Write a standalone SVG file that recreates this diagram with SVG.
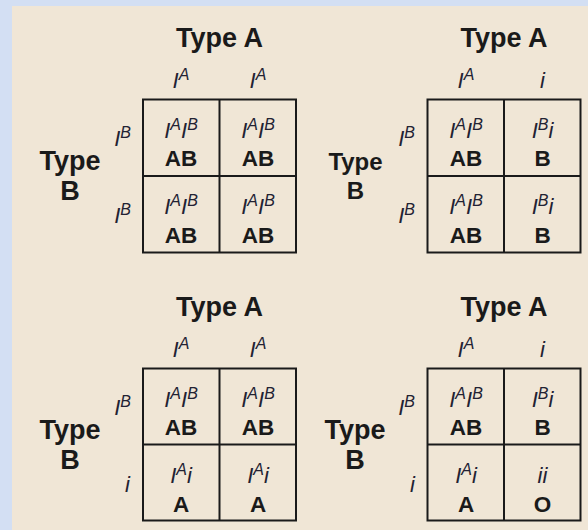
<svg xmlns="http://www.w3.org/2000/svg" width="588" height="530" viewBox="0 0 588 530">
<style>
text{font-family:"Liberation Sans",Arial,sans-serif;fill:#1a1a1a}
.title{font-weight:bold;font-size:27px;text-anchor:middle}
.tb{font-weight:bold;font-size:27px;text-anchor:middle}
.tb2{font-weight:bold;font-size:24px;text-anchor:middle}
.al{font-style:italic;font-size:22px;text-anchor:middle;fill:#222233}
.row{font-style:italic;font-size:22px;text-anchor:end;fill:#222233}
.sup{font-size:16px}
.ph{font-weight:bold;font-size:22.5px;text-anchor:middle}
.grid{fill:none;stroke:#1a1a1a;stroke-width:2}
</style>
<rect x="0" y="0" width="588" height="530" fill="#d3dff3"/>
<rect x="12" y="6" width="576" height="524" fill="#f0e6d6"/>

<g id="square-AA-BB">
<text class="title" x="219.5" y="47">Type A</text>
<text class="al" x="181" y="88">I<tspan class="sup" dy="-8">A</tspan></text>
<text class="al" x="258" y="88">I<tspan class="sup" dy="-8">A</tspan></text>
<text class="tb" x="70" y="170">Type</text>
<text class="tb" x="70" y="200">B</text>
<text class="row" x="131" y="146">I<tspan class="sup" dy="-8">B</tspan></text>
<text class="row" x="131" y="222.5">I<tspan class="sup" dy="-8">B</tspan></text>
<rect class="grid" x="143" y="99.5" width="153" height="153"/>
<line class="grid" x1="219.5" y1="99.5" x2="219.5" y2="252.5"/>
<line class="grid" x1="143" y1="176" x2="296" y2="176"/>
<text class="al" x="181" y="137.5">I<tspan class="sup" dy="-8">A</tspan><tspan dy="8">I</tspan><tspan class="sup" dy="-8">B</tspan></text>
<text class="ph" x="181" y="165.5">AB</text>
<text class="al" x="258" y="137.5">I<tspan class="sup" dy="-8">A</tspan><tspan dy="8">I</tspan><tspan class="sup" dy="-8">B</tspan></text>
<text class="ph" x="258" y="165.5">AB</text>
<text class="al" x="181" y="214">I<tspan class="sup" dy="-8">A</tspan><tspan dy="8">I</tspan><tspan class="sup" dy="-8">B</tspan></text>
<text class="ph" x="181" y="243">AB</text>
<text class="al" x="258" y="214">I<tspan class="sup" dy="-8">A</tspan><tspan dy="8">I</tspan><tspan class="sup" dy="-8">B</tspan></text>
<text class="ph" x="258" y="243">AB</text>
</g>

<g id="square-Ai-BB">
<text class="title" x="504" y="47">Type A</text>
<text class="al" x="466" y="88">I<tspan class="sup" dy="-8">A</tspan></text>
<text class="al" x="542.5" y="88">i</text>
<text class="tb2" x="355.5" y="170">Type</text>
<text class="tb2" x="355.5" y="199">B</text>
<text class="row" x="415" y="146">I<tspan class="sup" dy="-8">B</tspan></text>
<text class="row" x="415" y="222.5">I<tspan class="sup" dy="-8">B</tspan></text>
<rect class="grid" x="427.5" y="99.5" width="153" height="153"/>
<line class="grid" x1="504" y1="99.5" x2="504" y2="252.5"/>
<line class="grid" x1="427.5" y1="176" x2="580.5" y2="176"/>
<text class="al" x="466" y="137.5">I<tspan class="sup" dy="-8">A</tspan><tspan dy="8">I</tspan><tspan class="sup" dy="-8">B</tspan></text>
<text class="ph" x="466" y="165.5">AB</text>
<text class="al" x="542.5" y="137.5">I<tspan class="sup" dy="-8">B</tspan><tspan dy="8">i</tspan></text>
<text class="ph" x="542.5" y="165.5">B</text>
<text class="al" x="466" y="214">I<tspan class="sup" dy="-8">A</tspan><tspan dy="8">I</tspan><tspan class="sup" dy="-8">B</tspan></text>
<text class="ph" x="466" y="243">AB</text>
<text class="al" x="542.5" y="214">I<tspan class="sup" dy="-8">B</tspan><tspan dy="8">i</tspan></text>
<text class="ph" x="542.5" y="243">B</text>
</g>

<g id="square-AA-Bi">
<text class="title" x="219.5" y="316">Type A</text>
<text class="al" x="181" y="357">I<tspan class="sup" dy="-8">A</tspan></text>
<text class="al" x="258" y="357">I<tspan class="sup" dy="-8">A</tspan></text>
<text class="tb" x="70" y="438.5">Type</text>
<text class="tb" x="70" y="468.5">B</text>
<text class="row" x="131" y="415">I<tspan class="sup" dy="-8">B</tspan></text>
<text class="row" x="130" y="491.5">i</text>
<rect class="grid" x="143" y="368.5" width="153" height="152"/>
<line class="grid" x1="219.5" y1="368.5" x2="219.5" y2="520.5"/>
<line class="grid" x1="143" y1="444.5" x2="296" y2="444.5"/>
<text class="al" x="181" y="406.5">I<tspan class="sup" dy="-8">A</tspan><tspan dy="8">I</tspan><tspan class="sup" dy="-8">B</tspan></text>
<text class="ph" x="181" y="435">AB</text>
<text class="al" x="258" y="406.5">I<tspan class="sup" dy="-8">A</tspan><tspan dy="8">I</tspan><tspan class="sup" dy="-8">B</tspan></text>
<text class="ph" x="258" y="435">AB</text>
<text class="al" x="181" y="483">I<tspan class="sup" dy="-8">A</tspan><tspan dy="8">i</tspan></text>
<text class="ph" x="181" y="512">A</text>
<text class="al" x="258" y="483">I<tspan class="sup" dy="-8">A</tspan><tspan dy="8">i</tspan></text>
<text class="ph" x="258" y="512">A</text>
</g>

<g id="square-Ai-Bi">
<text class="title" x="504" y="316">Type A</text>
<text class="al" x="466" y="357">I<tspan class="sup" dy="-8">A</tspan></text>
<text class="al" x="542.5" y="357">i</text>
<text class="tb" x="355" y="438.5">Type</text>
<text class="tb" x="355" y="468.5">B</text>
<text class="row" x="415" y="415">I<tspan class="sup" dy="-8">B</tspan></text>
<text class="row" x="415" y="491.5">i</text>
<rect class="grid" x="427.5" y="368.5" width="153" height="152"/>
<line class="grid" x1="504" y1="368.5" x2="504" y2="520.5"/>
<line class="grid" x1="427.5" y1="444.5" x2="580.5" y2="444.5"/>
<text class="al" x="466" y="406.5">I<tspan class="sup" dy="-8">A</tspan><tspan dy="8">I</tspan><tspan class="sup" dy="-8">B</tspan></text>
<text class="ph" x="466" y="435">AB</text>
<text class="al" x="542.5" y="406.5">I<tspan class="sup" dy="-8">B</tspan><tspan dy="8">i</tspan></text>
<text class="ph" x="542.5" y="435">B</text>
<text class="al" x="466" y="483">I<tspan class="sup" dy="-8">A</tspan><tspan dy="8">i</tspan></text>
<text class="ph" x="466" y="512">A</text>
<text class="al" x="542.5" y="483">ii</text>
<text class="ph" x="542.5" y="512">O</text>
</g>
</svg>
